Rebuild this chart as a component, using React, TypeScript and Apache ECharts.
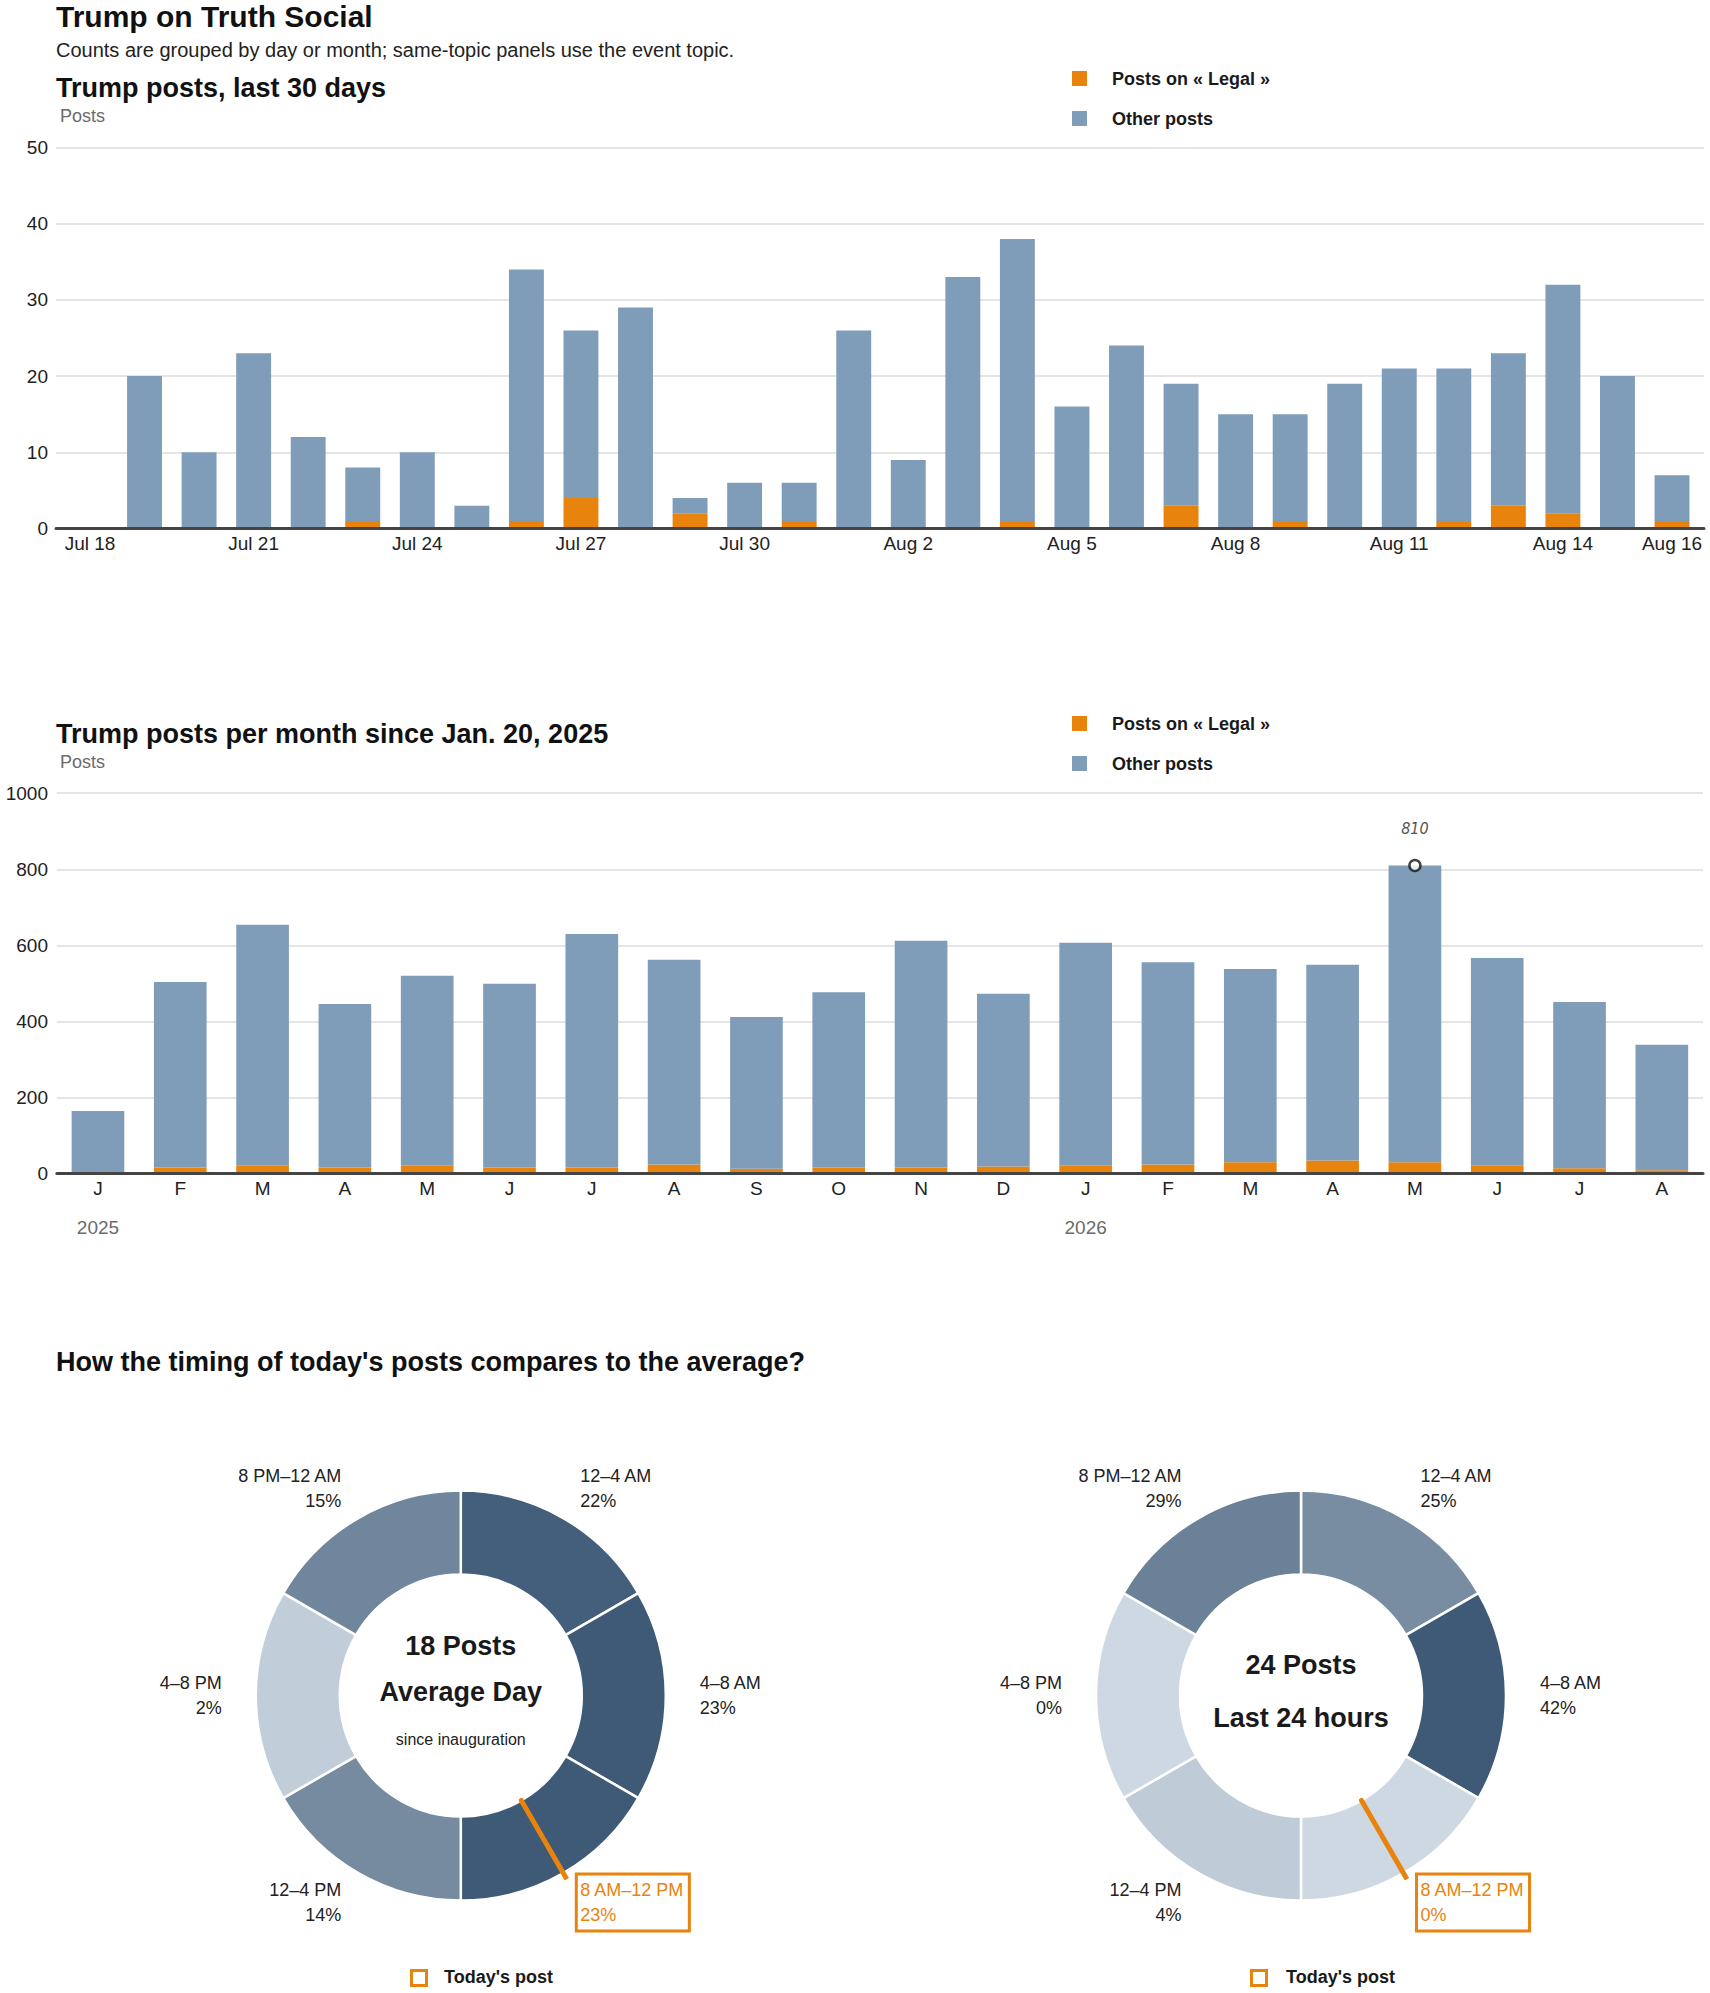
import { useEffect, useRef } from "react";
import * as echarts from "echarts";

const DAYS = [
  "Jul 18", "Jul 19", "Jul 20", "Jul 21", "Jul 22", "Jul 23", "Jul 24", "Jul 25",
  "Jul 26", "Jul 27", "Jul 28", "Jul 29", "Jul 30", "Jul 31", "Aug 1", "Aug 2",
  "Aug 3", "Aug 4", "Aug 5", "Aug 6", "Aug 7", "Aug 8", "Aug 9", "Aug 10",
  "Aug 11", "Aug 12", "Aug 13", "Aug 14", "Aug 15", "Aug 16",
];
const DAILY_TOTAL = [
  0, 20, 10, 23, 12, 8, 10, 3, 34, 26, 29, 4, 6, 6, 26, 9,
  33, 38, 16, 24, 19, 15, 15, 19, 21, 21, 23, 32, 20, 7,
];
const DAILY_LEGAL = [
  0, 0, 0, 0, 0, 1, 0, 0, 1, 4, 0, 2, 0, 1, 0, 0,
  0, 1, 0, 0, 3, 0, 1, 0, 0, 1, 3, 2, 0, 1,
];

const MONTHS = ["J", "F", "M", "A", "M", "J", "J", "A", "S", "O", "N", "D", "J", "F", "M", "A", "M", "J", "J", "A"];
const MONTH_YEARS = ["2025", "", "", "", "", "", "", "", "", "", "", "", "2026", "", "", "", "", "", "", ""];
const MONTHLY_TOTAL = [165, 504, 654, 446, 520, 499, 630, 562, 412, 477, 612, 473, 607, 556, 538, 549, 810, 567, 451, 339];
const MONTHLY_LEGAL = [0, 16, 21, 16, 21, 16, 16, 24, 13, 16, 16, 19, 21, 24, 30, 35, 30, 21, 14, 9];

const SLOTS = ["12–4 AM", "4–8 AM", "8 AM–12 PM", "12–4 PM", "4–8 PM", "8 PM–12 AM"];
const SLOT_HOURS = [4, 4, 4, 4, 4, 4];
const AVG_SHARE = [22, 23, 23, 14, 2, 15];
const LAST24_SHARE = [25, 42, 0, 4, 0, 29];
const AVG_POSTS = 18;
const LAST24_POSTS = 24;
const TODAY_POST_HOUR = 10;

const LEGAL = "Posts on « Legal »";
const OTHER = "Other posts";

const FONT = "'Liberation Sans', Arial, sans-serif";
const NARROW = "'Liberation Sans Narrow', 'DejaVu Sans Condensed', sans-serif";
const ORANGE = "#E8830E";
const BLUE = "#7F9DB9";
const INK = "#1a1a1a";
const GREY = "#6b6b6b";
const GRID = "#dcdcdc";

const LIGHT = [205, 216, 226];
const DARK = [62, 90, 118];
const shade = (v: number, max: number) => {
  const t = max ? v / max : 0;
  const c = LIGHT.map((l, k) => Math.round(l + (DARK[k] - l) * t));
  return `rgb(${c.join(",")})`;
};

const PIE_Y = 1695.6;
const LEFT_PIE_X = 460.8;
const RIGHT_PIE_X = 1301;

const text = (x: number, y: number, t: string, size: number, opts: any = {}) => ({
  type: "text",
  x,
  y,
  silent: true,
  style: {
    text: t,
    fontFamily: FONT,
    fontSize: size,
    fill: INK,
    align: "left",
    verticalAlign: "middle",
    ...opts,
  },
});

const donut = (cx: number, shares: number[]) => {
  const max = Math.max(...shares);
  const hl = Math.floor(TODAY_POST_HOUR / 4);
  return {
    type: "pie",
    center: [cx, PIE_Y],
    radius: [121, 205],
    startAngle: 90,
    clockwise: true,
    avoidLabelOverlap: false,
    silent: true,
    itemStyle: { borderColor: "#fff", borderWidth: 2.5 },
    label: {
      show: true,
      position: "outside",
      distanceToLabelLine: 0,
      fontFamily: FONT,
      fontSize: 18,
      lineHeight: 24.5,
      color: "#222",
      formatter: (p: any) => `${p.name}\n${shares[p.dataIndex]}%`,
    },
    labelLine: { show: false, length: 34, length2: 0 },
    emphasis: { disabled: true },
    data: SLOTS.map((name, i) => ({
      name,
      value: SLOT_HOURS[i],
      itemStyle: { color: shade(shares[i], max) },
      ...(i === hl
        ? {
            label: {
              color: ORANGE,
              borderColor: ORANGE,
              borderWidth: 3,
              padding: [4, 5, 4, 4],
              distanceToLabelLine: -4,
            },
          }
        : {}),
    })),
  };
};

const todayLine = (polarIndex: number) => ({
  type: "line",
  coordinateSystem: "polar",
  polarIndex,
  data: [
    [121, TODAY_POST_HOUR],
    [212, TODAY_POST_HOUR],
  ],
  symbol: "none",
  silent: true,
  z: 10,
  lineStyle: { color: ORANGE, width: 5, cap: "round" },
});

const tickLabel = { fontFamily: FONT, fontSize: 19, color: "#222" };

const legendOf = (top: number) => ({
  left: 1072,
  top,
  padding: 0,
  orient: "vertical",
  icon: "rect",
  itemWidth: 15,
  itemHeight: 15,
  itemGap: 22,
  selectedMode: false,
  data: [LEGAL, OTHER],
  textStyle: {
    fontFamily: FONT,
    fontWeight: "bold",
    fontSize: 18,
    lineHeight: 18,
    color: INK,
    padding: [0, 0, 0, 20],
  },
});

export default function App() {
  const ref = useRef<HTMLDivElement>(null);

  useEffect(() => {
    if (!ref.current) return;
    const chart = echarts.init(ref.current, null, { renderer: "svg" });
    const peak = MONTHLY_TOTAL.indexOf(Math.max(...MONTHLY_TOTAL));

    chart.setOption({
      animation: false,
      backgroundColor: "#fff",
      textStyle: { fontFamily: FONT },
      legend: [legendOf(69.5), legendOf(714.5)],
      grid: [
        { left: 56, top: 147.4, width: 1648, height: 381.2, containLabel: false, outerBoundsMode: "none" },
        { left: 62.7, top: 147.4, width: 1636.6, height: 381.2, containLabel: false, outerBoundsMode: "none" },
        { left: 56.8, top: 793.2, width: 1646.2, height: 380.5, containLabel: false, outerBoundsMode: "none" },
      ],
      xAxis: [
        {
          gridIndex: 0,
          type: "value",
          min: 0,
          max: 1,
          z: 5,
          axisLine: { show: true, lineStyle: { color: "#444", width: 3 } },
          axisTick: { show: false },
          axisLabel: { show: false },
          splitLine: { show: false },
        },
        {
          gridIndex: 1,
          type: "category",
          data: DAYS,
          axisLine: { show: false },
          axisTick: { show: false },
          axisLabel: {
            ...tickLabel,
            margin: 5,
            interval: (i: number) => i % 3 === 0 || i === DAYS.length - 1,
          },
        },
        {
          gridIndex: 2,
          type: "category",
          data: MONTHS,
          z: 5,
          axisLine: { show: true, lineStyle: { color: "#444", width: 3 } },
          axisTick: { show: false },
          axisLabel: { ...tickLabel, margin: 5, interval: 0 },
        },
        {
          gridIndex: 2,
          type: "category",
          position: "bottom",
          data: MONTH_YEARS,
          axisLine: { show: false },
          axisTick: { show: false },
          axisLabel: { ...tickLabel, color: GREY, margin: 44, interval: 0 },
        },
      ],
      yAxis: [
        {
          gridIndex: 0,
          type: "value",
          min: 0,
          max: 50,
          interval: 10,
          axisLine: { show: false },
          axisTick: { show: false },
          axisLabel: { ...tickLabel, margin: 8 },
          splitLine: { lineStyle: { color: GRID, width: 1.5 } },
        },
        { gridIndex: 1, type: "value", min: 0, max: 50, show: false },
        {
          gridIndex: 2,
          type: "value",
          min: 0,
          max: 1000,
          interval: 200,
          axisLine: { show: false },
          axisTick: { show: false },
          axisLabel: { ...tickLabel, margin: 8.8, formatter: (v: number) => String(v) },
          splitLine: { lineStyle: { color: GRID, width: 1.5 } },
        },
      ],
      polar: [
        { center: [LEFT_PIE_X, PIE_Y], radius: 212 },
        { center: [RIGHT_PIE_X, PIE_Y], radius: 212 },
      ],
      angleAxis: [0, 1].map((polarIndex) => ({
        polarIndex,
        type: "value",
        min: 0,
        max: 24,
        startAngle: 90,
        clockwise: true,
        show: false,
      })),
      radiusAxis: [0, 1].map((polarIndex) => ({
        polarIndex,
        type: "value",
        min: 0,
        max: 212,
        show: false,
      })),
      series: [
        {
          name: LEGAL,
          type: "bar",
          xAxisIndex: 1,
          yAxisIndex: 1,
          stack: "day",
          barWidth: "64%",
          itemStyle: { color: ORANGE },
          data: DAILY_LEGAL,
        },
        {
          name: OTHER,
          type: "bar",
          xAxisIndex: 1,
          yAxisIndex: 1,
          stack: "day",
          barWidth: "64%",
          itemStyle: { color: BLUE },
          data: DAILY_TOTAL.map((v, i) => v - DAILY_LEGAL[i]),
        },
        {
          name: LEGAL,
          type: "bar",
          xAxisIndex: 2,
          yAxisIndex: 2,
          stack: "month",
          barWidth: "64%",
          itemStyle: { color: ORANGE },
          data: MONTHLY_LEGAL,
        },
        {
          name: OTHER,
          type: "bar",
          xAxisIndex: 2,
          yAxisIndex: 2,
          stack: "month",
          barWidth: "64%",
          itemStyle: { color: BLUE },
          data: MONTHLY_TOTAL.map((v, i) => v - MONTHLY_LEGAL[i]),
        },
        {
          type: "scatter",
          xAxisIndex: 2,
          yAxisIndex: 2,
          z: 6,
          symbol: "circle",
          symbolSize: 11,
          itemStyle: { color: "#fff", borderColor: "#111", borderWidth: 2.5 },
          label: {
            show: true,
            position: "top",
            distance: 22,
            fontFamily: NARROW,
            fontStyle: "italic",
            fontSize: 16,
            color: "#222",
            formatter: () => String(MONTHLY_TOTAL[peak]),
          },
          data: MONTHLY_TOTAL.map((v, i) => (i === peak ? v : "-")),
        },
        donut(LEFT_PIE_X, AVG_SHARE),
        donut(RIGHT_PIE_X, LAST24_SHARE),
        todayLine(0),
        todayLine(1),
      ],
      graphic: [
        text(56, 16, "Trump on Truth Social", 30, { fontWeight: "bold", fill: "#111" }),
        text(56, 50.3, "Counts are grouped by day or month; same-topic panels use the event topic.", 20, { fill: "#222" }),
        text(56, 88, "Trump posts, last 30 days", 27, { fontWeight: "bold", fill: "#111" }),
        text(60, 116, "Posts", 18, { fill: GREY }),
        text(56, 733.7, "Trump posts per month since Jan. 20, 2025", 27, { fontWeight: "bold", fill: "#111" }),
        text(60, 762, "Posts", 18, { fill: GREY }),
        text(56, 1361.5, "How the timing of today's posts compares to the average?", 27, { fontWeight: "bold", fill: "#111" }),
        text(LEFT_PIE_X, 1646, `${AVG_POSTS} Posts`, 27, { fontWeight: "bold", align: "center" }),
        text(LEFT_PIE_X, 1692, "Average Day", 27, { fontWeight: "bold", align: "center" }),
        text(LEFT_PIE_X, 1739, "since inauguration", 16, { align: "center", fill: "#222" }),
        text(RIGHT_PIE_X, 1665, `${LAST24_POSTS} Posts`, 27, { fontWeight: "bold", align: "center" }),
        text(RIGHT_PIE_X, 1718, "Last 24 hours", 27, { fontWeight: "bold", align: "center" }),
        {
          type: "rect",
          silent: true,
          shape: { x: 411.5, y: 1970.5, width: 15, height: 15 },
          style: { fill: "none", stroke: ORANGE, lineWidth: 3 },
        },
        text(444, 1976.5, "Today's post", 18, { fontWeight: "bold" }),
        {
          type: "rect",
          silent: true,
          shape: { x: 1251.5, y: 1970.5, width: 15, height: 15 },
          style: { fill: "none", stroke: ORANGE, lineWidth: 3 },
        },
        text(1286, 1976.5, "Today's post", 18, { fontWeight: "bold" }),
      ],
    });

    return () => chart.dispose();
  }, []);

  return (
    <div
      ref={ref}
      style={{ position: "absolute", left: 0, top: 0, width: 1710, height: 1993 }}
    />
  );
}
